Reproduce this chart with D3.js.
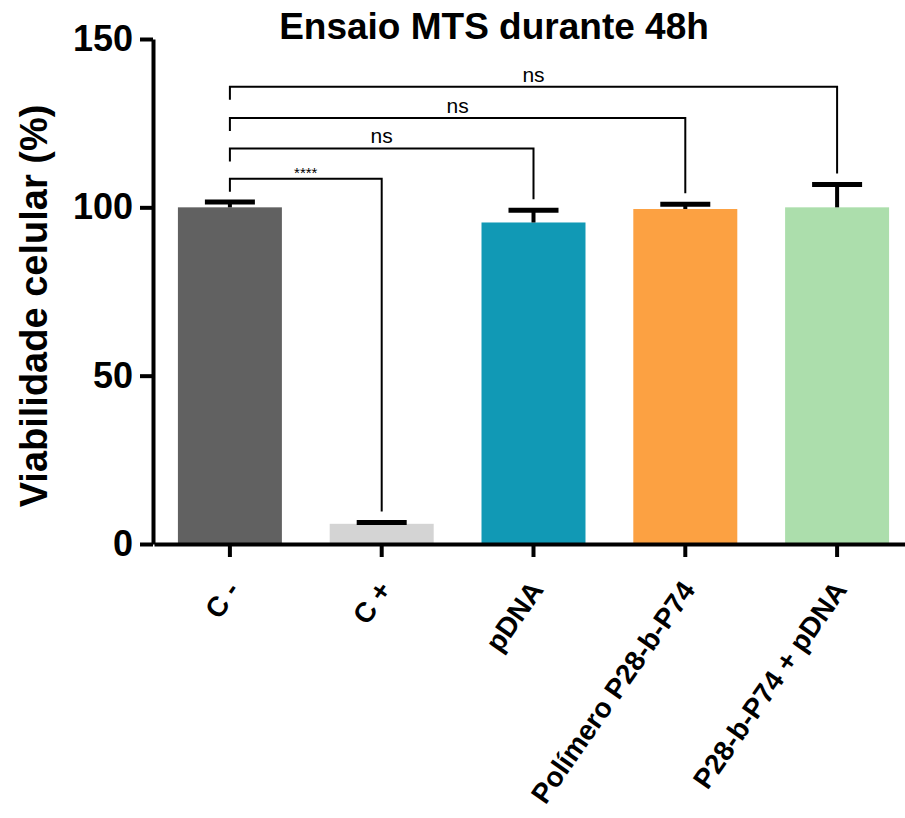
<!DOCTYPE html>
<html>
<head>
<meta charset="utf-8">
<script src="https://cdn.jsdelivr.net/npm/d3@7"></script>
<style>
  body { margin: 0; background: #fff; }
  text { font-family: "Liberation Sans", Arial, sans-serif; }
</style>
</head>
<body>
<div id="chart"></div>
<script>
// data
var categories = ["C -", "C +", "pDNA", "Polímero P28-b-P74", "P28-b-P74 + pDNA"];
var means = [100, 6, 95.5, 99.5, 100];
var errors = [1.6, 0.4, 3.6, 1.4, 6.8];
var barColors = ["#616161", "#d4d4d4", "#1199b5", "#fca142", "#acdeac"];
var yTicks = [0, 50, 100, 150];

// significance brackets, all vs C -
var bracketTo = [1, 2, 3, 4];
var bracketLabels = ["****", "ns", "ns", "ns"];
var bracketLevels = [108.5, 117.5, 126.5, 135.8];

var W = 905, H = 818;
var svg = d3.select("#chart").append("svg").attr("width", W).attr("height", H);

var y = d3.scaleLinear().domain([0, 150]).range([544, 39]);
var x = d3.scaleBand().domain(categories).range([154, 913])
	.paddingInner(0.315).paddingOuter(0.1575);

function cx(i){ return x(categories[i]) + x.bandwidth()/2; }

//bars
svg.selectAll("rect.bar").data(means).enter().append("rect")
	.attr("class","bar")
	.attr("x", function(d,i){ return x(categories[i]); })
	.attr("width", x.bandwidth())
	.attr("y", function(d){ return y(d); })
	.attr("height", function(d){ return y(0) - y(d); })
	.attr("fill", function(d,i){ return barColors[i]; });

//error bars (upper only)
var eb = svg.append("g").attr("stroke","#000");
means.forEach(function(m,i){
	eb.append("line").attr("x1",cx(i)).attr("x2",cx(i))
		.attr("y1",y(m)).attr("y2",y(m+errors[i])).attr("stroke-width",4);
	eb.append("line").attr("x1",cx(i)-25).attr("x2",cx(i)+25)
		.attr("y1",y(m+errors[i])).attr("y2",y(m+errors[i])).attr("stroke-width",5);
});

// y axis
var yAxis = svg.append("g").attr("transform","translate(153,0)")
	.call(d3.axisLeft(y).tickValues(yTicks).tickSize(13).tickSizeOuter(0).tickPadding(7));
yAxis.select(".domain").attr("stroke-width",4);
yAxis.selectAll(".tick line").attr("stroke-width",4);
yAxis.selectAll(".tick text").attr("font-size",36).attr("font-weight","bold")
	.attr("fill","#000").style("font-family","Liberation Sans, Arial, sans-serif");

// x axis
var xAxis = svg.append("g").attr("transform","translate(0,544)")
	.call(d3.axisBottom(x).tickSize(13).tickSizeOuter(0));
xAxis.select(".domain").attr("stroke-width",4);
xAxis.selectAll(".tick line").attr("stroke-width",4);
xAxis.selectAll(".tick text").remove();

// rotated category labels
categories.forEach(function(c,i){
	var px = cx(i) + 11, py = 590;
	svg.append("text").text(c)
		.attr("transform","translate("+px+","+py+") rotate(-55)")
		.attr("text-anchor","end")
		.attr("font-size",28).attr("font-weight","bold").attr("fill","#000");
});

// brackets
var bg = svg.append("g").attr("fill","none").attr("stroke","#000").attr("stroke-width",2);
bracketTo.forEach(function(t,k){
	var yl = y(bracketLevels[k]);
	var x0 = cx(0), x1 = cx(t);
	var rightEnd = y(means[t]+errors[t]) - 11;
	bg.append("path").attr("d","M"+x0+","+(yl+13)+"V"+yl+"H"+x1+"V"+rightEnd);
	svg.append("text").text(bracketLabels[k])
		.attr("x",(x0+x1)/2).attr("y", bracketLabels[k]=="ns" ? yl-5 : yl-1)
		.attr("text-anchor","middle")
		.attr("font-size", bracketLabels[k]=="ns" ? 21 : 15)
		.attr("fill","#000");
});

// title
svg.append("text").text("Ensaio MTS durante 48h")
	.attr("x",494).attr("y",39).attr("text-anchor","middle")
	.attr("font-size",37).attr("font-weight","bold").attr("fill","#000");

// y label
svg.append("text").text("Viabilidade celular (%)")
	.attr("transform","translate(47,306) rotate(-90)")
	.attr("text-anchor","middle")
	.attr("font-size",38).attr("font-weight","bold").attr("fill","#000");
</script>
</body>
</html>
